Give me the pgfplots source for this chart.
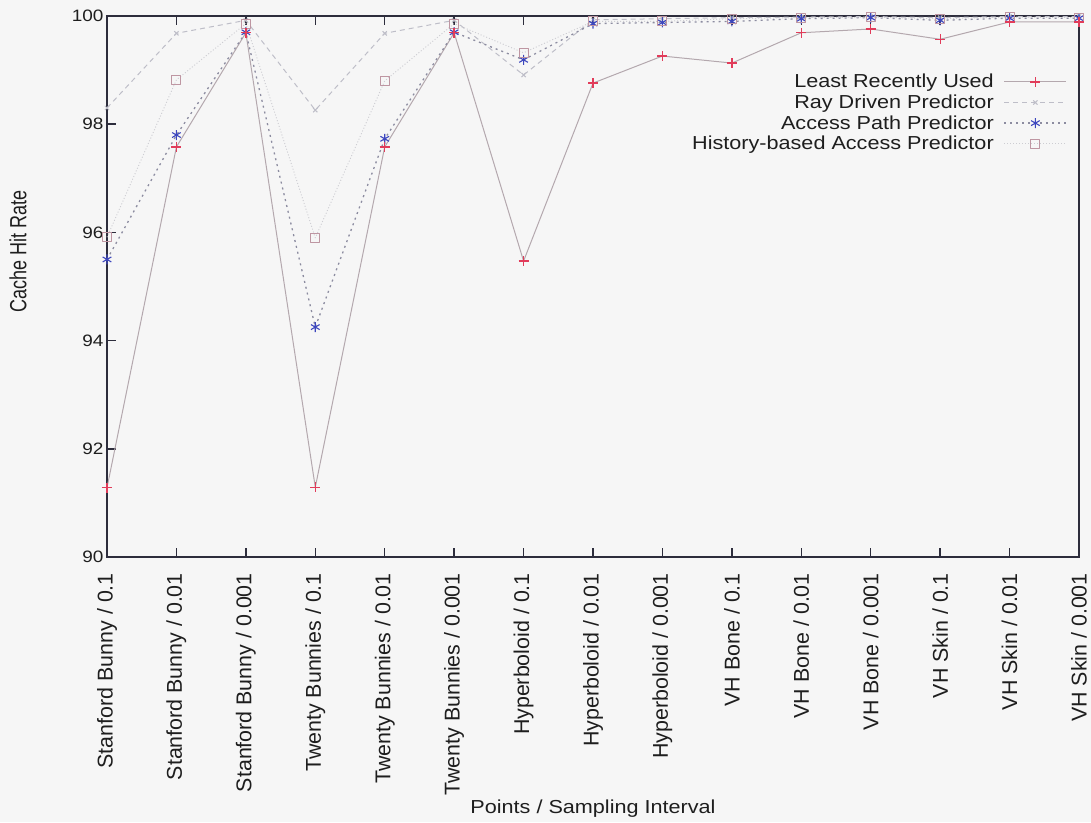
\documentclass[border=0pt]{standalone}
\usepackage{fontspec}
\setmainfont[FakeStretch=1.15]{Liberation Sans}
\newfontfamily\plainfont{Liberation Sans}
\usepackage{pgfplots}
\usepackage{pgfplotstable}
\pgfplotsset{compat=1.18}
\usetikzlibrary{backgrounds}
\definecolor{bg}{RGB}{246,246,246}
\definecolor{lruline}{RGB}{180,168,174}
\definecolor{lrumark}{RGB}{225,60,90}
\definecolor{rayline}{RGB}{190,190,200}
\definecolor{apline}{RGB}{140,140,160}
\definecolor{apmark}{RGB}{60,70,190}
\definecolor{hline}{RGB}{205,205,210}
\definecolor{hmark}{RGB}{190,150,162}
\definecolor{frame}{RGB}{45,45,60}
\definecolor{txt}{RGB}{30,30,30}

\pgfplotstableread{
x lru ray ap hist
0  91.28 98.30 95.50 95.91
1  97.58 99.68 97.80 98.82
2  99.69 99.92 99.70 99.86
3  91.29 98.26 94.25 95.90
4  97.58 99.68 97.73 98.80
5  99.69 99.92 99.70 99.86
6  95.47 98.91 99.19 99.32
7  98.76 99.93 99.86 99.90
8  99.26 99.95 99.88 99.90
9  99.13 99.97 99.90 99.95
10 99.69 99.98 99.95 99.97
11 99.76 99.99 99.97 99.98
12 99.57 99.97 99.92 99.95
13 99.89 99.99 99.96 99.98
14 99.89 99.99 99.96 99.97
}\data

\begin{document}
\begin{tikzpicture}[every node/.style={text=txt}]
\begin{axis}[
  name=ax,
  scale only axis,
  width=972pt, height=541pt,
  xmin=0, xmax=14, ymin=90, ymax=100,
  clip=false,
  xtick={0,...,14},
  xticklabels={Stanford Bunny / 0.1, Stanford Bunny / 0.01, Stanford Bunny / 0.001,
    Twenty Bunnies / 0.1, Twenty Bunnies / 0.01, Twenty Bunnies / 0.001,
    Hyperboloid / 0.1, Hyperboloid / 0.01, Hyperboloid / 0.001,
    VH Bone / 0.1, VH Bone / 0.01, VH Bone / 0.001,
    VH Skin / 0.1, VH Skin / 0.01, VH Skin / 0.001},
  ytick={90,92,...,100},
  xtick pos=both, ytick pos=left,
  tick align=inside,
  major tick length=9pt,
  tick style={frame, line width=1.4pt},
  axis line style={frame, line width=1.8pt},
  /pgf/number format/assume math mode=true,
  yticklabel style={font=\fontsize{16.5}{18}\selectfont, xshift=0pt},
  xticklabel style={rotate=90, anchor=east, inner xsep=16pt, font=\plainfont\fontsize{21.4}{23}\selectfont},
  every axis y label/.style={at={(axis description cs:-0.0916,0.564)}, xscale=1.3, rotate=90, anchor=center, font=\plainfont\fontsize{18}{20}\selectfont},
  every axis x label/.style={at={(axis description cs:0.5,-0.465)}, anchor=center, font=\fontsize{18.8}{20}\selectfont},
  ylabel={Cache Hit Rate},
  xlabel={Points / Sampling Interval},
  legend style={at={(axis description cs:0.991,0.90)}, anchor=north east, draw=none, fill=none,
    font=\fontsize{18.8}{20}\selectfont, legend cell align=right, row sep=1.5pt},
  legend plot pos=right,
  legend image code/.code={\path (0pt,0pt); \draw[mark repeat=2,mark phase=2] plot coordinates {(8pt,0pt) (39pt,0pt) (70pt,0pt)};},
  every axis plot/.append style={line join=round},
]
\addplot[color=lruline, line width=1pt, no marks,
  legend image code/.code={\path (0pt,0pt); \draw[lruline, line width=1pt] (8pt,0pt) -- (70pt,0pt);
    \draw[lrumark, line width=1.3pt] (34pt,0pt) -- (44pt,0pt) (39pt,-5pt) -- (39pt,5pt);}] table[x=x,y=lru]{\data};
\addlegendentry{Least Recently Used}
\addplot[color=rayline, dash pattern=on 5pt off 4pt, line width=1pt, mark=x, mark size=3pt, mark options={solid, draw=rayline}] table[x=x,y=ray]{\data};
\addlegendentry{Ray Driven Predictor}
\addplot[color=apline, dash pattern=on 2pt off 4pt, line width=1.3pt, mark=asterisk, mark size=5pt, mark options={solid, draw=apmark, line width=1.1pt}] table[x=x,y=ap]{\data};
\addlegendentry{Access Path Predictor}
\addplot[color=hline, dash pattern=on 1pt off 2pt, line width=0.9pt, mark=square, mark size=4.5pt, mark options={solid, draw=hmark, line width=0.9pt}] table[x=x,y=hist]{\data};
\addlegendentry{History-based Access Predictor}
\addplot[color=lrumark, only marks, mark=+, mark size=5pt, mark options={line width=1.3pt}, forget plot] table[x=x,y=lru]{\data};
\end{axis}
\pgfresetboundingbox
\path[use as bounding box] ([shift={(-107pt,-265pt)}]ax.south west) rectangle ([shift={(12pt,16pt)}]ax.north east);
\begin{scope}[on background layer]
\fill[bg] ([shift={(-107pt,-265pt)}]ax.south west) rectangle ([shift={(12pt,16pt)}]ax.north east);
\end{scope}
\end{tikzpicture}
\end{document}
